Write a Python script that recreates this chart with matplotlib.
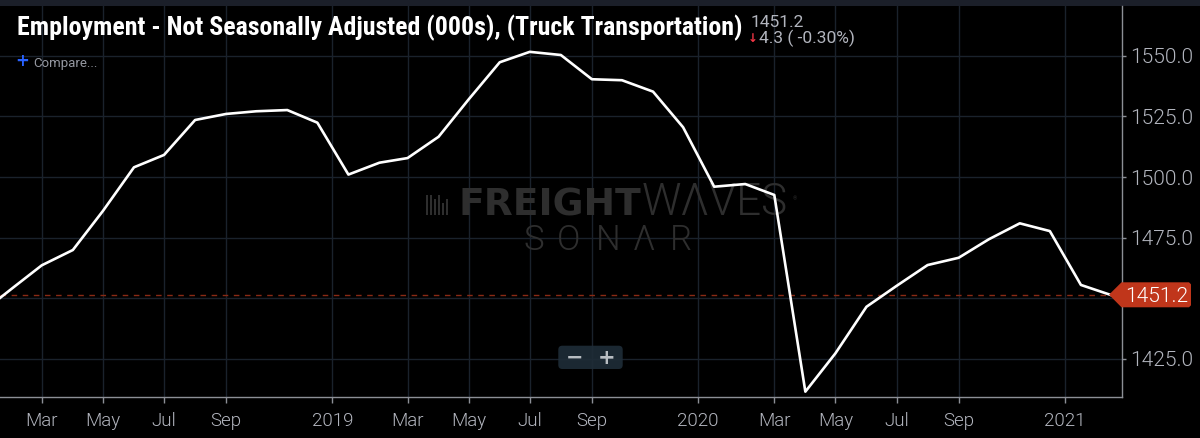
import matplotlib
matplotlib.use('Agg')
import matplotlib.pyplot as plt
import matplotlib.dates as mdates
from matplotlib.patches import FancyBboxPatch, Polygon, Rectangle
from matplotlib.ticker import FixedLocator, FixedFormatter
from matplotlib.transforms import IdentityTransform
from matplotlib import font_manager as fm
import pandas as pd

# ---------------- data ----------------
start_month = '2018-01-01'
end_month = '2021-02-01'
employment = [
    1444.5, 1454.6, 1463.6, 1469.9, 1486.0, 1504.0, 1509.1, 1523.5, 1526.0, 1527.1, 1527.6, 1522.4,
    1501.0, 1505.9, 1507.8, 1516.6, 1532.0, 1547.3, 1551.6, 1550.3, 1540.3, 1539.9, 1535.2, 1520.5,
    1496.0, 1497.1, 1492.6, 1411.5, 1427.3, 1446.5, 1455.1, 1463.7, 1466.7, 1474.3, 1480.9, 1477.7,
    1455.5, 1451.2,
]
title = 'Employment - Not Seasonally Adjusted (000s), (Truck Transportation)'
last_value = 1451.2
change_text = '4.3 ( -0.30%)'
x_tick_dates = ['2018-03-01', '2018-05-01', '2018-07-01', '2018-09-01', '2018-12-16',
                '2019-03-01', '2019-05-01', '2019-07-01', '2019-09-01', '2019-12-16',
                '2020-03-01', '2020-05-01', '2020-07-01', '2020-09-01', '2020-12-16']
x_tick_labels = ['Mar', 'May', 'Jul', 'Sep', '2019',
                 'Mar', 'May', 'Jul', 'Sep', '2020',
                 'Mar', 'May', 'Jul', 'Sep', '2021']
y_ticks = [1425, 1450, 1475, 1500, 1525, 1550]
# the 1450.0 label is hidden behind the last-value badge in the reference
y_tick_labels = ['1425.0', '', '1475.0', '1500.0', '1525.0', '1550.0']


def has_font(name):
    try:
        fm.findfont(fm.FontProperties(family=name), fallback_to_default=False)
        return True
    except Exception:
        return False


title_font = 'Roboto'
for cand in ['Roboto Condensed', 'Liberation Sans Narrow', 'Roboto']:
    if has_font(cand):
        title_font = cand
        break

plt.rcParams['font.family'] = ['Roboto', 'DejaVu Sans']

W, H = 1200, 438


def fx(x):
    return x / W


def fy(y):
    return 1 - y / H


fig = plt.figure(figsize=(W / 100, H / 100), dpi=100)
fig.patch.set_facecolor('#000000')
ax = fig.add_axes([0, fy(397), fx(1122), fy(6) - fy(397)])
ax.set_facecolor('#000000')

# top band
fig.add_artist(Rectangle((0, fy(6)), 1, 6 / H, transform=fig.transFigure,
                         facecolor='#1b1f29', edgecolor='none', zorder=0))

dates = pd.date_range(start_month, end_month, freq='MS')
ax.plot(dates, employment, color='white', lw=1.9, solid_joinstyle='round',
        solid_capstyle='round', zorder=3)
ax.axhline(last_value, color='#8a2a15', lw=1, dashes=(4, 4), zorder=2)

m0 = mdates.date2num(pd.Timestamp('2018-03-01'))
ax.set_xlim(m0 - 41.7, m0 + 1078.0)
ax.set_ylim(1409.3, 1570.5)

ax.xaxis.set_major_locator(FixedLocator(mdates.date2num(pd.to_datetime(x_tick_dates))))
ax.xaxis.set_major_formatter(FixedFormatter(x_tick_labels))
ax.yaxis.tick_right()
ax.set_yticks(y_ticks)
ax.set_yticklabels(y_tick_labels)

ax.grid(True, color='#1a222c', lw=1)
ax.set_axisbelow(True)
for s in ['top', 'left']:
    ax.spines[s].set_visible(False)
for s in ['bottom', 'right']:
    ax.spines[s].set_color('#8c8f96')
    ax.spines[s].set_linewidth(1)

ax.tick_params(axis='x', length=4, width=1, color='#8c8f96', labelcolor='#b2b5be',
               labelsize=13.5, pad=7)
ax.tick_params(axis='y', length=3, width=1, color='#8c8f96', labelcolor='#b2b5be',
               labelsize=15, pad=3)
for lbl in ax.get_xticklabels() + ax.get_yticklabels():
    lbl.set_fontweight(300)

renderer = fig.canvas.get_renderer()


def fit_width(t, width):
    bb = t.get_window_extent(renderer)
    t.set_fontsize(t.get_fontsize() * width / bb.width)


# title
t = fig.text(fx(17), fy(35), title, color='white', fontweight='bold',
             family=[title_font, 'DejaVu Sans'], fontsize=18, va='baseline')
fit_width(t, 725)

# compare
fig.text(fx(22), fy(61.5), '+', color='#2962ff', fontsize=12, fontweight='bold',
         family=['DejaVu Sans'], ha='center', va='center')
fig.text(fx(33), fy(66.7), 'Compare...', color='#9598a1', fontsize=9.5, va='baseline')

# header value
fig.text(fx(751), fy(27.3), f'{last_value:.1f}', color='#b2b5be', fontsize=12.5, va='baseline')
fig.text(fx(752.5), fy(42.5), '↓', color='#f23645', fontsize=8.5, fontweight='bold',
         family=['DejaVu Sans'], ha='center', va='baseline')
fig.text(fx(759), fy(43), change_text, color='#b2b5be', fontsize=12.5, va='baseline')

# price badge
yc = 294.7
badge = [(1109, yc), (1121.5, yc - 12.4), (1189, yc - 12.4), (1191, yc - 10.4),
         (1191, yc + 10.6), (1189, yc + 12.6), (1121.5, yc + 12.6)]
fig.add_artist(Polygon([(fx(x), fy(y)) for x, y in badge], closed=True,
                       transform=fig.transFigure, facecolor='#c0361b',
                       edgecolor='none', zorder=5))
fig.text(fx(1157), fy(301.7), f'{last_value:.1f}', color='white', fontsize=15,
         fontweight=300, ha='center', va='baseline', zorder=6)

# watermark
wm = '#2e2e2e'
tf = ax.text(fx(458), fy(215), 'FREIGHT', transform=fig.transFigure, color=wm,
             family=['DejaVu Sans'], fontweight='heavy', fontsize=20, va='baseline', zorder=1)
fit_width(tf, 182)
tw = ax.text(fx(642), fy(215), 'WΛVES', transform=fig.transFigure, color='#2e2e2e',
             fontweight=300, fontsize=20, va='baseline', zorder=1)
fit_width(tw, 146)
ax.text(fx(793), fy(200), '®', transform=fig.transFigure, color=wm, fontsize=4, zorder=1)
for ch, cx in zip('SONΛR', [534, 569, 608, 644, 681]):
    ax.text(fx(cx), fy(250.5), ch, transform=fig.transFigure, color='#2e2e2e',
            fontweight=300, fontsize=25, ha='center', va='baseline', zorder=1)
for bx, top in zip([426, 430, 434, 438, 442, 446], [195, 195, 199, 195, 203, 199]):
    ax.add_artist(Rectangle((bx, H - 215), 2.2, 215 - top, transform=IdentityTransform(),
                            facecolor=wm, edgecolor='none', zorder=1, clip_on=False))

# zoom buttons
ax.add_artist(FancyBboxPatch((558.3, H - 369), 64.4, 23.3,
                             boxstyle='round,pad=0,rounding_size=4',
                             transform=IdentityTransform(), facecolor='#1f2d38',
                             edgecolor='none', alpha=0.9, zorder=4, clip_on=False))
ax.text(fx(574.5), fy(364), '−', transform=fig.transFigure, color='#b8bdc2',
        family=['DejaVu Sans'], fontweight='bold', fontsize=15, ha='center',
        va='baseline', zorder=5)
ax.text(fx(606.5), fy(364), '+', transform=fig.transFigure, color='#b8bdc2',
        family=['DejaVu Sans'], fontweight='bold', fontsize=15, ha='center',
        va='baseline', zorder=5)

fig.savefig('out.png', dpi=100, facecolor=fig.get_facecolor())
